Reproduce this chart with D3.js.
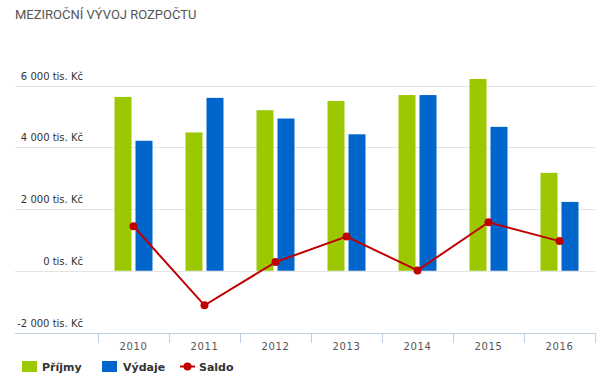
<!DOCTYPE html>
<html>
<head>
<meta charset="utf-8">
<script src="https://cdn.jsdelivr.net/npm/d3@7"></script>
<style>
  body { margin: 0; background: #fff; }
  svg { display: block; font-family: "DejaVu Sans", sans-serif; }
</style>
</head>
<body>
<svg id="chart" width="613" height="390"></svg>
<script>
// data, in tis. Kc
const years = ["2010", "2011", "2012", "2013", "2014", "2015", "2016"];
const prijmy = [5630, 4480, 5200, 5500, 5690, 6210, 3170];
const vydaje = [4210, 5600, 4930, 4420, 5690, 4660, 2230];
const saldo = [1440, -1120, 280, 1110, 10, 1570, 960];
const yTicks = [-2000, 0, 2000, 4000, 6000];

const green = "#9bc800", blue = "#0066cc", red = "#c00000";

const svg = d3.select("#chart");
const left = 98, right = 595, gridLeft = 15;

const x = d3.scaleBand().domain(years).range([left, right]);
const y = d3.scaleLinear().domain([-2000, 6000]).range([332.5, 85.5]);
const x1 = d3.scaleBand().domain(["p", "v"]).range([-19, 19]).paddingInner(0.19);

svg.append("text")
    .attr("x", 15).attr("y", 19)
    .attr("fill", "#555").style("font-family", "Roboto, sans-serif").style("font-size", "13px")
    .text("MEZIROČNÍ VÝVOJ ROZPOČTU");

// grid
svg.append("g").selectAll("line")
    .data(yTicks.filter(d => d > -2000))
    .join("line")
    .attr("x1", gridLeft).attr("x2", right)
    .attr("y1", d => Math.round(y(d)) + 0.5).attr("y2", d => Math.round(y(d)) + 0.5)
    .attr("stroke", "#e4e4e4").attr("stroke-width", 1);

const fmt = d => d3.format(",")(d).replace(/,/g, " ").replace("\u2212", "-") + " tis. Kč";
svg.append("g").selectAll("text")
    .data(yTicks)
    .join("text")
    .attr("x", 83).attr("y", d => y(d) - 6)
    .attr("text-anchor", "end")
    .attr("fill", "#333").style("font-size", "10px")
    .text(fmt);

// bottom axis
svg.append("line")
    .attr("x1", gridLeft).attr("x2", right)
    .attr("y1", Math.round(y(-2000)) + 0.5).attr("y2", Math.round(y(-2000)) + 0.5)
    .attr("stroke", "#c0d0e0");
const xAxis = d3.axisBottom(x).tickSize(0).tickPadding(9);
const gx = svg.append("g").attr("transform", `translate(0,${Math.round(y(-2000)) + 0.5})`).call(xAxis);
gx.select(".domain").remove();
gx.selectAll("text").attr("fill", "#555").style("font-size", "10px").style("letter-spacing", "0.6px")
    .style("font-family", "DejaVu Sans, sans-serif");
svg.append("g").selectAll("line")
    .data(years.concat(["end"]))
    .join("line")
    .attr("x1", (d, i) => Math.round(left + i * x.bandwidth()) + 0.5)
    .attr("x2", (d, i) => Math.round(left + i * x.bandwidth()) + 0.5)
    .attr("y1", Math.round(y(-2000))).attr("y2", Math.round(y(-2000)) + 10)
    .attr("stroke", "#c0d0e0");

// bars
const groups = svg.append("g").selectAll("g")
    .data(years)
    .join("g")
    .attr("transform", d => `translate(${x(d) + x.bandwidth() / 2},0)`);
groups.append("rect")
    .attr("x", x1("p")).attr("width", x1.bandwidth())
    .attr("y", (d, i) => y(prijmy[i])).attr("height", (d, i) => y(0) - y(prijmy[i]))
    .attr("fill", green);
groups.append("rect")
    .attr("x", x1("v")).attr("width", x1.bandwidth())
    .attr("y", (d, i) => y(vydaje[i])).attr("height", (d, i) => y(0) - y(vydaje[i]))
    .attr("fill", blue);

// saldo line
const line = d3.line()
    .x((d, i) => x(years[i]) + x.bandwidth() / 2)
    .y(d => y(d));
svg.append("path").datum(saldo)
    .attr("d", line).attr("fill", "none")
    .attr("stroke", red).attr("stroke-width", 2);
svg.append("g").selectAll("circle")
    .data(saldo)
    .join("circle")
    .attr("cx", (d, i) => x(years[i]) + x.bandwidth() / 2)
    .attr("cy", d => y(d))
    .attr("r", 4).attr("fill", red);

// legend
const legend = svg.append("g").style("font-size", "11px").style("font-weight", "bold").attr("fill", "#333");
legend.append("rect").attr("x", 22).attr("y", 361).attr("width", 15).attr("height", 11).attr("fill", green);
legend.append("text").attr("x", 42).attr("y", 371).text("Příjmy");
legend.append("rect").attr("x", 102).attr("y", 361).attr("width", 15).attr("height", 11).attr("fill", blue);
legend.append("text").attr("x", 123).attr("y", 371).text("Výdaje");
legend.append("line").attr("x1", 180).attr("x2", 195).attr("y1", 366.5).attr("y2", 366.5)
    .attr("stroke", red).attr("stroke-width", 2);
legend.append("circle").attr("cx", 187.5).attr("cy", 366.5).attr("r", 4).attr("fill", red);
legend.append("text").attr("x", 199).attr("y", 371).text("Saldo");
</script>
</body>
</html>
